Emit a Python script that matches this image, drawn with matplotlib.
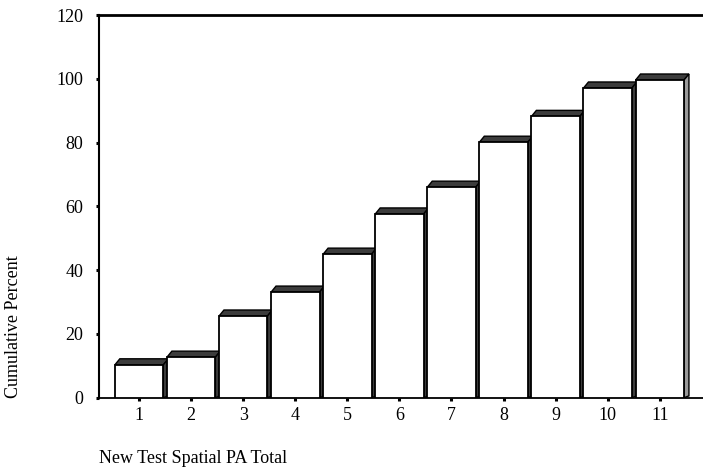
import matplotlib
matplotlib.use('Agg')
import matplotlib.pyplot as plt
from matplotlib.patches import Polygon

# cumulative percent per score
scores = [1, 2, 3, 4, 5, 6, 7, 8, 9, 10, 11]
cum_pct = [10.3, 12.7, 25.6, 33.1, 45.0, 57.6, 66.0, 80.1, 88.2, 97.1, 99.6]
y_ticks = [0, 20, 40, 60, 80, 100, 120]

plt.rcParams['font.family'] = ['Liberation Serif', 'DejaVu Serif']

fig = plt.figure(figsize=(7.03, 4.72), dpi=100)
ax = fig.add_axes([0.1408, 0.1574, 0.8592, 0.8108])

width = 0.93
dx, dy = 0.095, 1.9  # fake 3d depth

for i, (x, v) in enumerate(zip(scores, cum_pct)):
    x0 = x - width / 2
    x1 = x + width / 2
    side_col = '#9a9a9a' if i == len(scores) - 1 else '#3c3c3c'
    # top face
    ax.add_patch(Polygon([(x0, v), (x1, v), (x1 + dx, v + dy), (x0 + dx, v + dy)],
                         closed=True, facecolor='#3c3c3c', edgecolor='black',
                         linewidth=1.0, zorder=2))
    # right side face
    ax.add_patch(Polygon([(x1, 0), (x1 + dx, dy * 0.3), (x1 + dx, v + dy), (x1, v)],
                         closed=True, facecolor=side_col, edgecolor='black',
                         linewidth=1.0, zorder=2))

ax.bar(scores, cum_pct, width=width, color='white', edgecolor='black',
       linewidth=1.3, zorder=3)

ax.set_xlim(0.23, 11.83)
ax.set_ylim(0, 120)
ax.set_xticks(scores)
ax.set_yticks(y_ticks)

ax.spines['right'].set_visible(False)
ax.spines['top'].set_linewidth(2.0)
ax.spines['left'].set_linewidth(1.5)
ax.spines['bottom'].set_linewidth(1.3)

ax.tick_params(axis='y', direction='out', length=2.5, width=2.2, pad=9.0, labelsize=13)
ax.tick_params(axis='x', direction='out', length=2.5, width=2.2, pad=4.0, labelsize=13)

ax.set_ylabel('Cumulative Percent', fontsize=13)
ax.yaxis.set_label_coords(-0.127, 0.185)
ax.text(0.0, -0.158, 'New Test Spatial PA Total', transform=ax.transAxes,
        ha='left', va='center', fontsize=13)

fig.savefig('out.png', dpi=100)
